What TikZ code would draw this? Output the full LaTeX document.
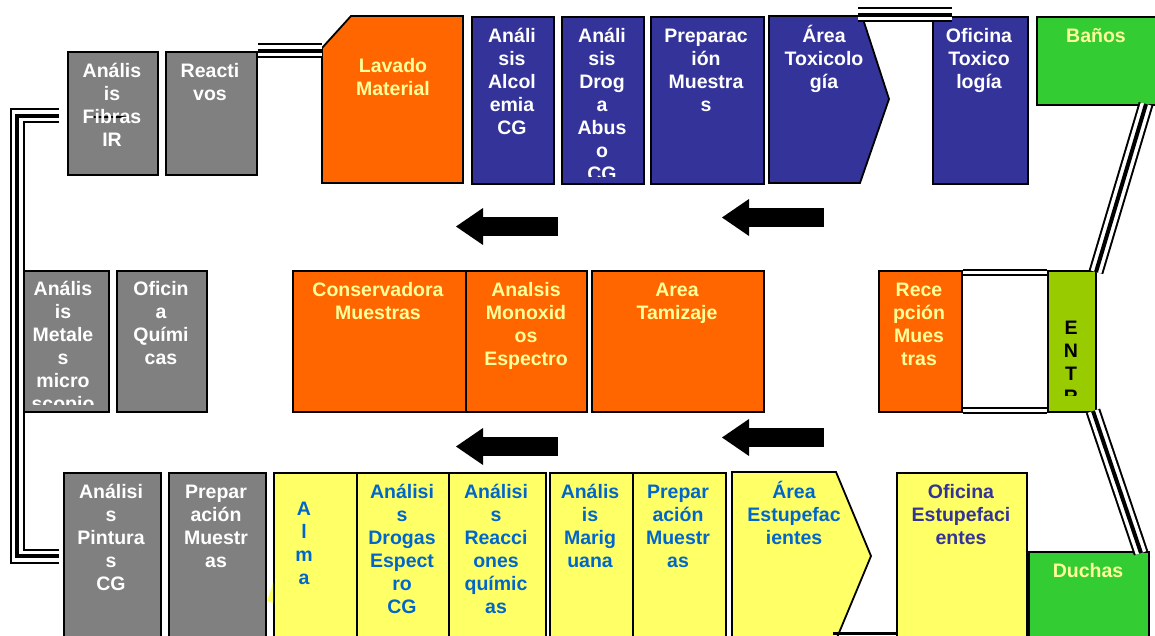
\documentclass[tikz,border=0pt]{standalone}
\usepackage{fontspec}
\setmainfont{Liberation Sans}
\usetikzlibrary{arrows.meta}

\definecolor{gris}{HTML}{808080}
\definecolor{azul}{HTML}{333399}
\definecolor{naranja}{HTML}{FF6600}
\definecolor{verde}{HTML}{33CC33}
\definecolor{lima}{HTML}{99CC00}
\definecolor{amarillo}{HTML}{FFFF66}
\definecolor{crema}{HTML}{FFFF99}
\definecolor{celeste}{HTML}{0066CC}

\newcommand{\tope}{\rule{0pt}{20pt}}

\begin{document}
\begin{tikzpicture}[
	x=1pt, y=-1pt,
	sala/.style={draw, line width=1.8pt, inner sep=0pt, anchor=north west},
	rotulo/.style={anchor=north, yshift=20pt, align=center, inner sep=0pt, font=\bfseries\fontsize{19.5}{23}\selectfont},
	muro/.style={draw, line width=15pt, postaction={draw, white, line width=11pt}, postaction={draw, black, line width=4pt}},
	puerta/.style={draw, line width=2pt, double=white, double distance=3pt},
	flecha/.style={line width=19pt, -{Triangle[length=27pt, width=37pt, line width=0pt]}}
]
	\useasboundingbox (0,0) rectangle (1155,636);
	\clip (0,0) rectangle (1155,636);

	% fila de arriba
	\node[sala, fill=gris, minimum width=90pt, minimum height=123pt] (fibras) at (67,51) {};
	\node[sala, fill=gris, minimum width=91pt, minimum height=123pt] (reactivos) at (165,51) {};
	\draw[line width=1.8pt, fill=naranja] (322,48) -- (351,16) -- (463,16) -- (463,183) -- (322,183) -- cycle;
	\node[sala, fill=azul, minimum width=82pt, minimum height=167pt] (alcolemia) at (471,16) {};
	\node[sala, fill=azul, minimum width=82pt, minimum height=167pt] (droga) at (561,16) {};
	\node[sala, fill=azul, minimum width=113pt, minimum height=167pt] (preptox) at (650,16) {};
	\draw[line width=1.8pt, fill=azul] (769,16) -- (862,16) -- (889,99) -- (860,183) -- (769,183) -- cycle;
	\node[sala, fill=azul, minimum width=95pt, minimum height=167pt] (oficinatox) at (932,16) {};
	\node[sala, fill=verde, minimum width=120pt, minimum height=88pt] (banos) at (1036,16) {};

	% fila del medio
	\node[sala, fill=gris, minimum width=88pt, minimum height=141pt] (metales) at (20,270) {};
	\node[sala, fill=gris, minimum width=90pt, minimum height=141pt] (quimicas) at (116,270) {};
	\node[sala, fill=naranja, minimum width=173pt, minimum height=141pt] (conservadora) at (292,270) {};
	\node[sala, fill=naranja, minimum width=121pt, minimum height=141pt] (monoxidos) at (465,270) {};
	\node[sala, fill=naranja, minimum width=172pt, minimum height=141pt] (tamizaje) at (591,270) {};
	\node[sala, fill=naranja, minimum width=83pt, minimum height=141pt] (recepcion) at (878,270) {};
	\node[sala, fill=lima, minimum width=48pt, minimum height=141pt] (entrada) at (1047,270) {};

	% fila de abajo
	\node[sala, fill=gris, minimum width=97pt, minimum height=200pt] (pinturas) at (63,472) {};
	\node[sala, fill=gris, minimum width=97pt, minimum height=200pt] (prepgris) at (168,472) {};
	\node[sala, fill=amarillo, minimum width=83pt, minimum height=200pt] (alma) at (273,472) {};
	\fill[amarillo] (273,583) -- (267,601) -- (273,603) -- cycle;
	\node[sala, fill=amarillo, minimum width=92pt, minimum height=200pt] (drogasesp) at (356,472) {};
	\node[sala, fill=amarillo, minimum width=97pt, minimum height=200pt] (reacciones) at (448,472) {};
	\node[sala, fill=amarillo, minimum width=83pt, minimum height=200pt] (mariguana) at (549,472) {};
	\node[sala, fill=amarillo, minimum width=93pt, minimum height=200pt] (prepamarillo) at (632,472) {};
	\draw[line width=1.8pt, fill=amarillo] (732,472) -- (836,472) -- (871,556) -- (836,640) -- (732,640) -- cycle;
	\node[sala, fill=amarillo, minimum width=130pt, minimum height=200pt] (oficinaestup) at (896,472) {};
	\node[sala, fill=verde, minimum width=120pt, minimum height=120pt] (duchas) at (1028,551) {};
	\draw[line width=3pt] (833,633) -- (oficinaestup.west |- 0,633);

	% muros
	\draw[muro] (reactivos.east |- 0,51) -- (322,51);
	\draw[muro] (858,15) -- (952,15);
	\draw[muro] (59,116) -- (17,116) -- (17,556) -- (59,556);
	\draw[muro] (1146,104) -- (1096,272);
	\draw[muro] (1093,411) -- (1141,553);
	\draw[puerta] (recepcion.east |- 0,272.5) -- (entrada.west |- 0,272.5);
	\draw[puerta] (recepcion.east |- 0,410) -- (entrada.west |- 0,410);
	\draw[line width=2pt] (90,117) -- (128,117);

	% flechas
	\coordinate (f1) at (558,226.5);
	\coordinate (f1p) at (456,226.5);
	\coordinate (f2) at (824,217.5);
	\coordinate (f2p) at (722,217.5);
	\coordinate (f3) at (558,446.5);
	\coordinate (f3p) at (456,446.5);
	\coordinate (f4) at (824,437.5);
	\coordinate (f4p) at (722,437.5);
	\draw[flecha] (f1) -- (f1p);
	\draw[flecha] (f2) -- (f2p);
	\draw[flecha] (f3) -- (f3p);
	\draw[flecha] (f4) -- (f4p);

	% textos
	\node[rotulo, text=white] (tfibras) at (112,77) {\tope Anális\\is\\Fibras\\IR};
	\node[rotulo, text=white] (treactivos) at (210,77) {\tope Reacti\\vos};
	\node[rotulo, text=crema] (tlavado) at (393,72) {\tope Lavado\\Material};
	\node[rotulo, text=white] (talcolemia) at (512,42) {\tope Análi\\sis\\Alcol\\emia\\CG};
	\begin{scope}
		\clip (561,16) rectangle (643,177);
		\node[rotulo, text=white] (tdroga) at (602,42) {\tope Análi\\sis\\Drog\\a\\Abus\\o\\CG};
	\end{scope}
	\node[rotulo, text=white] (tpreptox) at (706,42) {\tope Preparac\\ión\\Muestra\\s};
	\node[rotulo, text=white] (tareatox) at (824,42) {\tope Área\\Toxicolo\\gía};
	\node[rotulo, text=white] (toficinatox) at (979,42) {\tope Oficina\\Toxico\\logía};
	\node[rotulo, text=crema] (tbanos) at (1096,42) {\tope Baños};

	\begin{scope}
		\clip (20,270) rectangle (108,404);
		\node[rotulo, text=white] (tmetales) at (63,295) {\tope Anális\\is\\Metale\\s\\micro\\scopio};
	\end{scope}
	\node[rotulo, text=white] (tquimicas) at (161,295) {\tope Oficin\\a\\Quími\\cas};
	\node[rotulo, text=crema] (tconservadora) at (378,296) {\tope Conservadora\\Muestras};
	\node[rotulo, text=crema] (tmonoxidos) at (526,296) {\tope Analsis\\Monoxid\\os\\Espectro};
	\node[rotulo, text=crema] (ttamizaje) at (677,296) {\tope Area\\Tamizaje};
	\node[rotulo, text=crema] (trecepcion) at (919,296) {\tope Rece\\pción\\Mues\\tras};
	\begin{scope}
		\clip (1047,270) rectangle (1095,395);
		\node[rotulo, text=black] (tentrada) at (1071,334) {\tope E\\N\\T\\R};
	\end{scope}

	\node[rotulo, text=white] (tpinturas) at (111,498) {\tope Análisi\\s\\Pintura\\s\\CG};
	\node[rotulo, text=white] (tprepgris) at (216,498) {\tope Prepar\\ación\\Muestr\\as};
	\node[rotulo, text=celeste] (talma) at (304,515) {\tope A\\l\\m\\a};
	\node[rotulo, text=celeste] (tdrogasesp) at (402,498) {\tope Análisi\\s\\Drogas\\Espect\\ro\\CG};
	\node[rotulo, text=celeste] (treacciones) at (496,498) {\tope Análisi\\s\\Reacci\\ones\\químic\\as};
	\node[rotulo, text=celeste] (tmariguana) at (590,498) {\tope Anális\\is\\Marig\\uana};
	\node[rotulo, text=celeste] (tprepamarillo) at (678,498) {\tope Prepar\\ación\\Muestr\\as};
	\node[rotulo, text=celeste] (tareaestup) at (794,498) {\tope Área\\Estupefac\\ientes};
	\node[rotulo, text=azul] (toficinaestup) at (961,498) {\tope Oficina\\Estupefaci\\entes};
	\node[rotulo, text=crema] (tduchas) at (1088,577) {\tope Duchas};
\end{tikzpicture}
\end{document}
